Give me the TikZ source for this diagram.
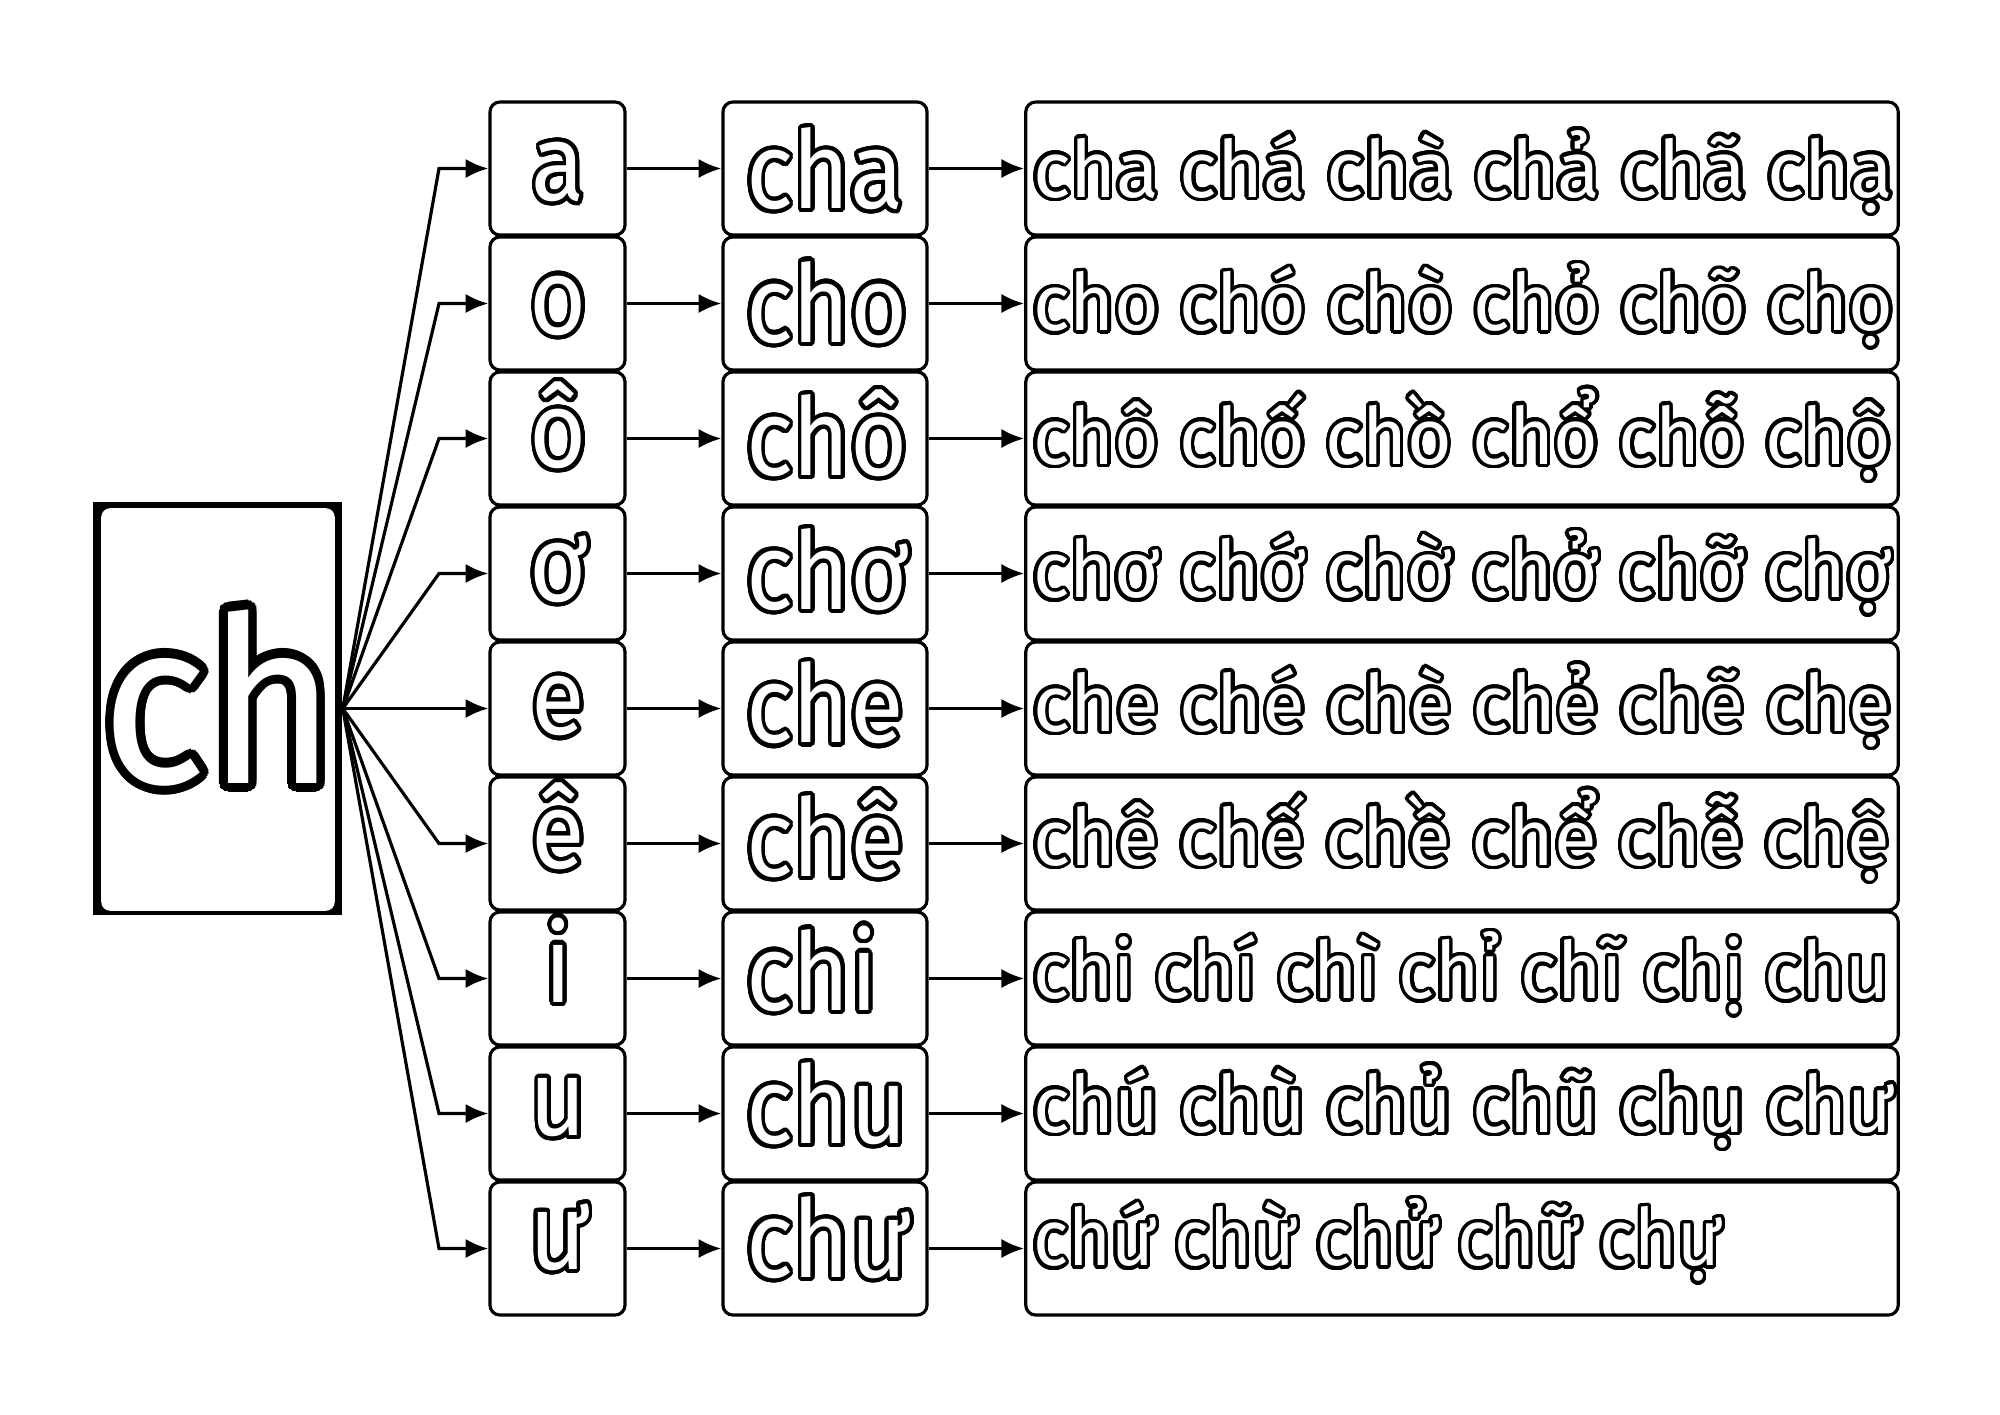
\documentclass[tikz,border=0pt]{standalone}
\usepackage{fontspec}
\setmainfont{Fira Sans}
\usepackage{graphicx}
\usepackage[copies]{contour}
\usetikzlibrary{arrows.meta}
\contournumber{32}
\newcommand{\outlinetxt}[2]{{\contourlength{#1}\color{white}\contour{black}{#2}}}
\newcommand{\bigfont}{\fontsize{66pt}{70pt}\selectfont}
\newcommand{\midfont}{\fontsize{30.8pt}{34pt}\selectfont}
\newcommand{\smfont}{\fontsize{22.5pt}{26pt}\selectfont}
\begin{document}
\begin{tikzpicture}[x=0.01cm,y=-0.01cm,
  box/.style={draw, line width=0.9pt, rounded corners=0.1cm, inner sep=0pt, minimum height=1.33cm},
  arr/.style={line width=0.9pt, -{Latex[length=6.5pt,width=5.5pt]}},
  txt/.style={inner sep=0pt, outer sep=0pt}]
\useasboundingbox[fill=white] (0,0) rectangle (2000,1414);
\node[fill=black, minimum width=2.49cm, minimum height=4.13cm, inner sep=0pt] (ch) at (217.5,708.5) {};
\fill[white, rounded corners=0.09cm] ([xshift=0.09cm,yshift=-0.07cm]ch.north west) rectangle ([xshift=-0.08cm,yshift=0.05cm]ch.south east);
\node[txt, anchor=base] (chtext) at (219,783) {\scalebox{0.95}[1]{\bigfont\outlinetxt{2.6pt}{ch}}};
\foreach \v/\s/\w/\tw [count=\rr from 0] in {
  a/cha/{cha chá chà chả chã chạ}/8.6cm,
  o/cho/{cho chó chò chỏ chõ chọ}/8.6cm,
  ô/chô/{chô chố chồ chổ chỗ chộ}/8.58cm,
  ơ/chơ/{chơ chớ chờ chở chỡ chợ}/8.58cm,
  e/che/{che ché chè chẻ chẽ chẹ}/8.58cm,
  ê/chê/{chê chế chề chể chễ chệ}/8.56cm,
  i/chi/{chi chí chì chỉ chĩ chị chu}/8.56cm,
  u/chu/{chú chù chủ chũ chụ chư}/8.6cm,
  ư/chư/{chứ chừ chử chữ chự}/6.88cm}{
  \pgfmathsetmacro{\cy}{168.5+135*\rr}
  \pgfmathsetmacro{\ba}{\cy+32-1.4*\rr}
  \pgfmathsetmacro{\bb}{\cy+40-1.4*\rr}
  \pgfmathsetmacro{\bc}{\cy+28.5-1.4*\rr}
  \node[box, minimum width=1.35cm] (v\rr) at (557.5,\cy) {};
  \node[box, minimum width=2.04cm] (s\rr) at (825,\cy) {};
  \node[box, minimum width=8.72cm] (w\rr) at (1462,\cy) {};
  \node[txt, anchor=base] (tv\rr) at (558.5,\ba) {\scalebox{0.905}[1]{\midfont\outlinetxt{1.2pt}{\v}}};
  \node[txt, anchor=base west] (ts\rr) at (746,\bb) {\scalebox{0.905}[1]{\midfont\outlinetxt{1.2pt}{\s}}};
  \node[txt, anchor=base west] (tw\rr) at (1033,\bc) {\resizebox{\tw}{\height}{\smfont\outlinetxt{1pt}{\w}}};
  \coordinate (b\rr) at (439,\cy);
  \draw[arr] (ch.east) -- (b\rr) -- (v\rr.west);
  \draw[arr] (v\rr.east) -- (s\rr.west);
  \draw[arr] (s\rr.east) -- (w\rr.west);
}
\end{tikzpicture}
\end{document}
